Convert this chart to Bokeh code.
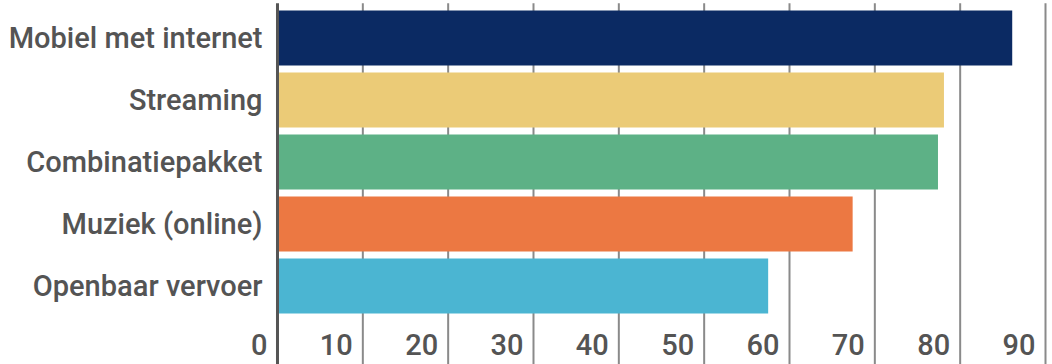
from bokeh.plotting import figure
from bokeh.models import Range1d, ColumnDataSource
from bokeh.embed import file_html
from bokeh.resources import INLINE
from bokeh.core.properties import value

categories = ["Mobiel met internet", "Streaming", "Combinatiepakket",
              "Muziek (online)", "Openbaar vervoer"]
values = [86.1, 78.1, 77.4, 67.4, 57.5]
colors = ["#0B2A63", "#EBCB77", "#5DB186", "#EC7842", "#4BB5D2"]
tick_values = [0, 10, 20, 30, 40, 50, 60, 70, 80, 90]
tick_labels = ["0", "10", "20", "30", "40", "50", "60", "70", "80", "90"]

rows = list(range(len(categories)))
src = ColumnDataSource(dict(y=rows, v=values, c=colors, cat=categories))

TEXT = "#545454"
FONT = "Roboto Medium"

# figure frame covers the whole canvas; x in data units, y in row units
p = figure(width=1052, height=364,
           x_range=Range1d(-32.46, 90.82), y_range=Range1d(5.266, -0.605),
           output_backend="svg", toolbar_location=None,
           x_axis_location=None, y_axis_location=None,
           min_border_left=0, min_border_right=0,
           min_border_top=0, min_border_bottom=0)
p.outline_line_color = None
p.background_fill_color = "white"
p.border_fill_color = "white"
p.xgrid.visible = False
p.ygrid.visible = False

GRID_TOP, GRID_BOTTOM = -0.56, 5.266

# vertical gridlines
p.segment(x0=tick_values[1:], x1=tick_values[1:],
          y0=[GRID_TOP] * (len(tick_values) - 1),
          y1=[GRID_BOTTOM] * (len(tick_values) - 1),
          line_color="#8a8a8a", line_width=2)

# bars
p.hbar(y="y", left=0, right="v", height=0.887, fill_color="c",
       line_color=None, source=src)

# zero (axis) line
p.segment(x0=[tick_values[0]], x1=[tick_values[0]],
          y0=[GRID_TOP], y1=[GRID_BOTTOM],
          line_color="#555555", line_width=3)

# category labels
p.text(x=0, y="y", text="cat", source=src, x_offset=-15,
       text_align="right", text_baseline="middle",
       text_font=value(FONT), text_font_size="29px", text_color=TEXT)

# value-axis tick labels (sit left of each gridline)
p.text(x=tick_values, y=[4.94] * len(tick_values), text=tick_labels,
       x_offset=-10, text_align="right", text_baseline="middle",
       text_font=value(FONT), text_font_size="29px", text_color=TEXT)

open("out.html", "w").write(file_html(p, INLINE))
